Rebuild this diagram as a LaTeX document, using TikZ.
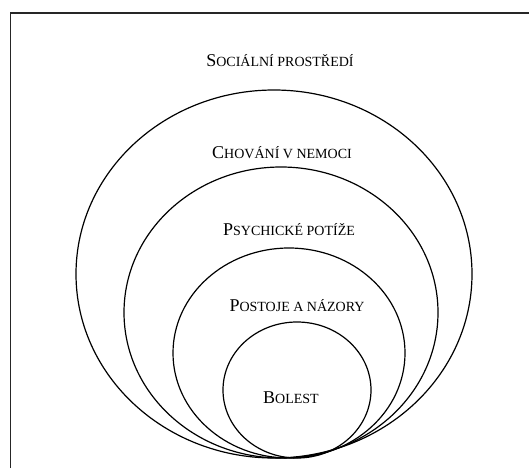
\documentclass[tikz,border=0pt]{standalone}
\usepackage{fontspec}
\setmainfont{Liberation Serif}
\newcommand\bigc[1]{{\fontsize{18}{20}\selectfont #1}}
\newcommand\smc[1]{{\fontsize{14}{16}\selectfont #1}}
\begin{document}
\begin{tikzpicture}[x=1pt,y=-1pt,
  ring/.style={draw=black,line width=1.2pt},
  lab/.style={inner sep=0pt,anchor=base,text=black}]
\useasboundingbox (0,0) rectangle (529,468);
\draw[line width=1.4pt,black!85] (10.5,468) -- (10.5,13) -- (529,13);
\draw[ring] (274,274) ellipse [x radius=198pt, y radius=184pt];
\draw[ring] (281,312.5) ellipse [x radius=157pt, y radius=145.5pt];
\draw[ring] (289,353) ellipse [x radius=116pt, y radius=105pt];
\draw[ring] (297,390) ellipse [x radius=74pt, y radius=68pt];
\node[lab] (t1) at (280,67) {\bigc{S}\smc{OCIÁLNÍ PROSTŘEDÍ}};
\node[lab] (t2) at (282,158) {\bigc{C}\smc{HOVÁNÍ V NEMOCI}};
\node[lab] (t3) at (289,235) {\bigc{P}\smc{SYCHICKÉ POTÍŽE}};
\node[lab] (t4) at (297,311) {\bigc{P}\smc{OSTOJE A NÁZORY}};
\node[lab] (t5) at (291,403) {\bigc{B}\smc{OLEST}};
\end{tikzpicture}
\end{document}
